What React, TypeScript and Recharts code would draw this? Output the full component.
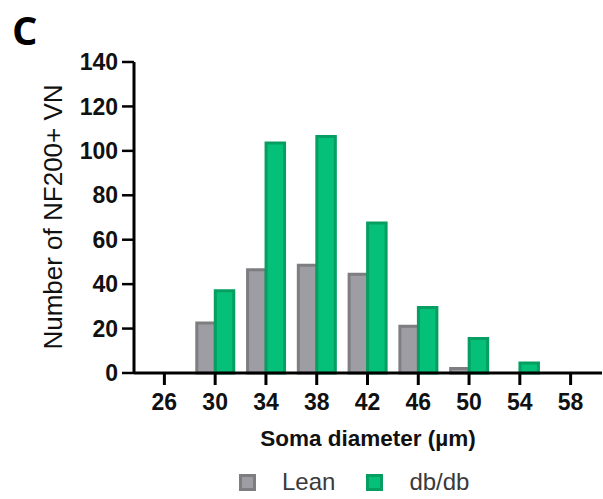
import React from 'react';
import { BarChart, Bar, XAxis, YAxis, Legend } from 'recharts';

const diameters = ['26', '30', '34', '38', '42', '46', '50', '54', '58'];
const leanCounts = [0, 22.5, 46.5, 48.5, 44.5, 21, 2, 0, 0];
const dbdbCounts = [0, 37, 103.5, 106.5, 67.5, 29.5, 15.5, 4.5, 0];
const yTicks = [0, 20, 40, 60, 80, 100, 120, 140];

const series = [
  { key: 'lean', name: 'Lean', fill: '#9e9da4', stroke: '#7e7e80' },
  { key: 'dbdb', name: 'db/db', fill: '#04c078', stroke: '#069e61' },
];

const data = diameters.map((d, i) => ({
  diameter: d,
  lean: leanCounts[i],
  dbdb: dbdbCounts[i],
}));

const font = '"Liberation Sans", Arial, sans-serif';

const LegendContent = () => (
  <div style={{ display: 'flex', alignItems: 'center', paddingLeft: 239, fontFamily: font }}>
    {series.map((s, i) => (
      <div key={s.key} style={{ display: 'flex', alignItems: 'center', marginRight: i === 0 ? 31 : 0 }}>
        <div
          style={{
            width: 11,
            height: 11,
            background: s.fill,
            border: `3px solid ${s.stroke}`,
            marginRight: 26,
          }}
        />
        <span style={{ fontSize: 24, color: '#3a3a3a', lineHeight: '24px' }}>{s.name}</span>
      </div>
    ))}
  </div>
);

const YLabel = () => (
  <text
    x={53}
    y={217}
    transform="rotate(-90, 53, 217)"
    textAnchor="middle"
    dominantBaseline="central"
    fontFamily={font}
    fontSize={26}
    fill="#111"
  >
    Number of NF200+ VN
  </text>
);

export default function App() {
  return (
    <div style={{ position: 'absolute', left: 0, top: 0, width: 603, height: 499, background: '#fff' }}>
      <div
        style={{
          position: 'absolute',
          left: 12,
          top: 6,
          fontFamily: '"Open Sans", sans-serif',
          fontWeight: 700,
          fontSize: 40,
          color: '#000',
          lineHeight: '48px',
        }}
      >
        C
      </div>
      <BarChart
        width={603}
        height={499}
        data={data}
        margin={{ top: 62, right: 1, left: 0, bottom: 0 }}
        barGap={0}
        barSize={18.5}
      >
        <XAxis
          dataKey="diameter"
          height={126}
          padding={{ left: 5, right: 6 }}
          axisLine={{ stroke: '#000', strokeWidth: 3 }}
          tickLine={{ stroke: '#000', strokeWidth: 3 }}
          tickSize={12}
          tickMargin={9}
          tick={{ fill: '#111', fontSize: 23, fontWeight: 700, fontFamily: font }}
          label={{
            value: 'Soma diameter (µm)',
            position: 'insideTop',
            offset: 57,
            style: { fill: '#111', fontSize: 22.5, fontWeight: 700, fontFamily: font },
          }}
        />
        <YAxis
          width={134}
          domain={[0, 140]}
          ticks={yTicks}
          interval={0}
          axisLine={{ stroke: '#000', strokeWidth: 3 }}
          tickLine={{ stroke: '#000', strokeWidth: 2.5 }}
          tickSize={12}
          tickMargin={4}
          tick={{ fill: '#111', fontSize: 23, fontWeight: 700, fontFamily: font }}
          label={<YLabel />}
        />
        <Legend
          verticalAlign="middle"
          align="center"
          layout="horizontal"
          wrapperStyle={{ left: 0, top: 470, width: 603 }}
          content={<LegendContent />}
        />
        {series.map((s) => (
          <Bar
            key={s.key}
            dataKey={s.key}
            name={s.name}
            fill={s.fill}
            stroke={s.stroke}
            strokeWidth={3}
            isAnimationActive={false}
          />
        ))}
      </BarChart>
    </div>
  );
}
